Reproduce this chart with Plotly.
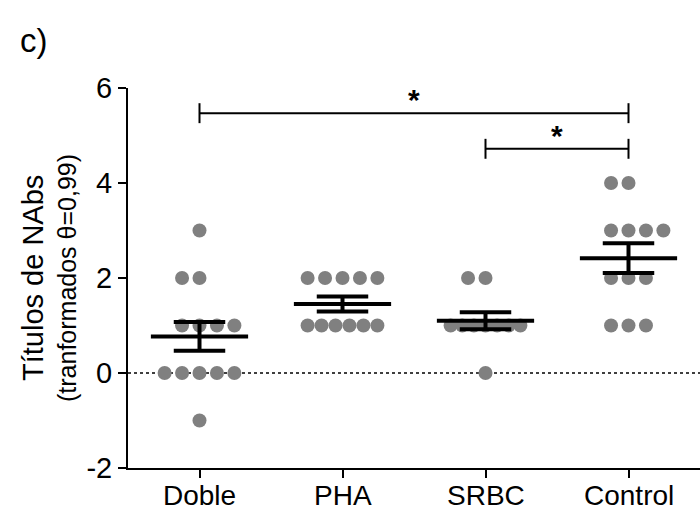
import numpy as np
import plotly.graph_objects as go

# Group labels and individual transformed NAb titres
categories = ["Doble", "PHA", "SRBC", "Control"]
doble = [3, 2, 2, 1, 1, 1, 1, 0, 0, 0, 0, 0, -1]
pha = [2, 2, 2, 2, 2, 1, 1, 1, 1, 1, 1]
srbc = [2, 2, 1, 1, 1, 1, 1, 1, 1, 0]
control = [4, 4, 3, 3, 3, 3, 2, 2, 2, 1, 1, 1]
groups = [doble, pha, srbc, control]

y_ticks = [-2, 0, 2, 4, 6]
y_ticktext = ["-2", "0", "2", "4", "6"]

# Significance comparisons: (group from, group to, label)
comparisons = [(0, 3, "*"), (2, 3, "*")]
comparison_levels = [5.47, 4.72]

FONT = "Arial, Liberation Sans, sans-serif"
DOT = "#808080"
STEP = 0.122  # horizontal spacing between tied points (x units)


def row_offsets(n):
    """Horizontal offsets for n tied points in a scatter column."""
    if n <= 5:
        order = [0, -1, 1, 2, -2][:n]
        return sorted(order)
    return list(np.linspace(-2, 2, n))


fig = go.Figure()
shapes = []

for gi, vals in enumerate(groups):
    xs, ys = [], []
    for v in sorted(set(vals), reverse=True):
        n = vals.count(v)
        for off in row_offsets(n):
            xs.append(gi + off * STEP)
            ys.append(v)
    fig.add_trace(go.Scatter(
        x=xs, y=ys, mode="markers",
        marker=dict(size=14, color=DOT, line=dict(width=0)),
        showlegend=False, hoverinfo="y"))

    arr = np.array(vals, dtype=float)
    mean = arr.mean()
    sem = arr.std(ddof=1) / np.sqrt(len(arr))
    line = dict(color="black", width=4)
    shapes += [
        dict(type="line", x0=gi - 0.34, x1=gi + 0.34, y0=mean, y1=mean, line=line),
        dict(type="line", x0=gi - 0.18, x1=gi + 0.18, y0=mean + sem, y1=mean + sem, line=line),
        dict(type="line", x0=gi - 0.18, x1=gi + 0.18, y0=mean - sem, y1=mean - sem, line=line),
        dict(type="line", x0=gi, x1=gi, y0=mean - sem, y1=mean + sem, line=line),
    ]

# dotted zero reference line, drawn beneath the points
shapes.append(dict(type="line", x0=-0.5, x1=3.5, y0=0, y1=0, layer="below",
                   line=dict(color="black", width=1.5, dash="dot")))

annotations = []
for (a, b, lab), lvl in zip(comparisons, comparison_levels):
    bl = dict(color="black", width=2)
    shapes += [
        dict(type="line", x0=a, x1=b, y0=lvl, y1=lvl, line=bl),
        dict(type="line", x0=a, x1=a, y0=lvl - 0.21, y1=lvl + 0.21, line=bl),
        dict(type="line", x0=b, x1=b, y0=lvl - 0.21, y1=lvl + 0.21, line=bl),
    ]
    annotations.append(dict(x=(a + b) / 2, y=lvl + 0.28, text="<b>" + lab + "</b>",
                            showarrow=False,
                            font=dict(family=FONT, size=30, color="black"),
                            xanchor="center", yanchor="middle"))

# category labels under the x axis
for gi, cat in enumerate(categories):
    annotations.append(dict(x=gi, y=0, xref="x", yref="paper", yshift=-11,
                            text=cat, showarrow=False, xanchor="center",
                            yanchor="top", borderpad=0,
                            font=dict(family=FONT, size=28, color="black")))

annotations += [
    dict(x=0, y=1, xref="paper", yref="paper", xshift=-110, yshift=48,
         text="c)", showarrow=False, xanchor="left", yanchor="middle",
         font=dict(family=FONT, size=33, color="black")),
    dict(x=0, y=0.5, xref="paper", yref="paper", xshift=-95, text="Títulos de NAbs",
         textangle=-90, showarrow=False, xanchor="center", yanchor="middle",
         font=dict(family=FONT, size=29, color="black")),
    dict(x=0, y=0.5, xref="paper", yref="paper", xshift=-61, text="(tranformados θ=0,99)",
         textangle=-90, showarrow=False, xanchor="center", yanchor="middle",
         font=dict(family=FONT, size=25, color="black")),
]

fig.update_layout(
    width=700, height=513,
    margin=dict(l=128, r=0, t=88, b=45),
    plot_bgcolor="white", paper_bgcolor="white",
    font=dict(family=FONT, size=29, color="black"),
    shapes=shapes, annotations=annotations,
    xaxis=dict(range=[-0.5, 3.5], tickvals=[0, 1, 2, 3], showticklabels=False,
               showline=True, linecolor="black", linewidth=2, ticks="outside",
               ticklen=8, tickwidth=2, tickcolor="black", showgrid=False,
               zeroline=False, automargin=False),
    yaxis=dict(range=[-2, 6], tickvals=y_ticks, ticktext=y_ticktext,
               showline=True, linecolor="black", linewidth=2, ticks="outside",
               ticklen=8, tickwidth=2, tickcolor="black", showgrid=False,
               zeroline=False, automargin=False, tickfont=dict(family=FONT, size=29)),
)

fig.write_html("out.html")
